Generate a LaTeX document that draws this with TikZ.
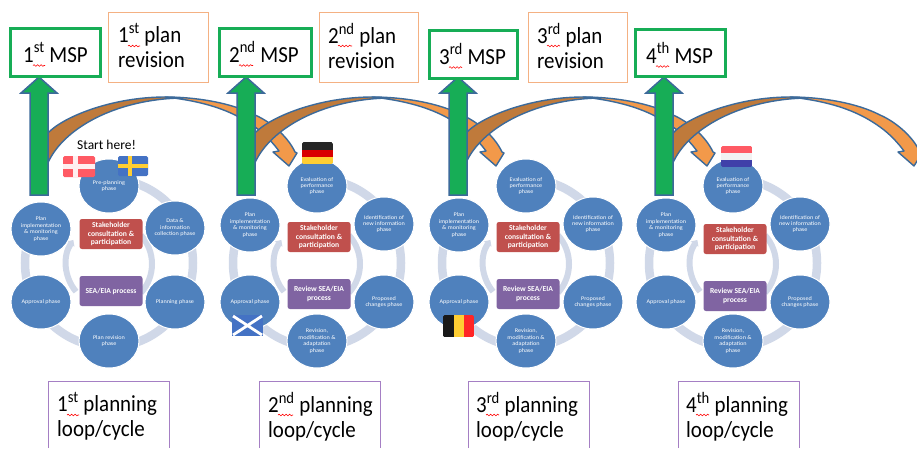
\documentclass[tikz,border=0pt]{standalone}
\usepackage{fontspec}
\setmainfont{Carlito}
\usetikzlibrary{arrows.meta,decorations.pathmorphing}
\definecolor{cblue}{HTML}{4F81BD}
\definecolor{cring}{HTML}{D0D8E8}
\definecolor{cred}{HTML}{C0504D}
\definecolor{cpurple}{HTML}{8064A2}
\definecolor{cgreen}{HTML}{17AD56}
\definecolor{cline}{HTML}{3C6A9A}
\definecolor{cbrown}{HTML}{BF7A3B}
\definecolor{corange}{HTML}{F2994A}
\definecolor{cboxor}{HTML}{F4B183}
\definecolor{cboxpu}{HTML}{A57FC4}
\definecolor{cflagred}{HTML}{FF5A64}
\definecolor{cflagblue}{HTML}{4472C4}
\definecolor{cflagyel}{HTML}{FFCE33}
\tikzset{
  x=1pt,y=-1pt,
  phase/.style={circle,draw=white,line width=1pt,fill=cblue,minimum width=60pt,inner sep=0pt,
    text=white,align=center,yscale=0.9,font=\fontsize{6.2}{7.2}\selectfont},
  redbox/.style={rectangle,rounded corners=2.5pt,fill=cred,minimum width=63pt,minimum height=30pt,inner sep=0pt,
    text=white,align=center,font=\fontsize{7.6}{8.4}\selectfont\bfseries},
  purplebox/.style={redbox,fill=cpurple},
  ringline/.style={draw=cring,line width=8.5pt},
  innerline/.style={draw=cring,line width=6pt},
  mspbox/.style={rectangle,draw=cgreen,line width=3pt,fill=white,inner sep=0pt},
  revbox/.style={rectangle,draw=cboxor,line width=0.9pt,fill=white,inner sep=0pt},
  planline/.style={draw=cboxpu,line width=1pt},
  label/.style={anchor=base west,inner sep=0pt,xscale=0.91,font=\fontsize{23}{25}\selectfont},
  biglabel/.style={anchor=north west,inner sep=0pt,align=left,xscale=0.91,font=\fontsize{23}{25}\selectfont},
  squig/.style={draw=red,line width=0.6pt,decorate,decoration={snake,amplitude=0.8pt,segment length=3.5pt}},
  greenarrow/.style={draw=cline,line width=1.5pt,fill=cgreen,line join=miter},
  bandline/.style={draw=cline,line width=1.4pt,line join=round},
  flagedge/.style={rounded corners=1.5pt}
}
\newcommand{\ringparts}{%
  \draw[ringline] (0,263) ++(90:84pt) arc[start angle=90,end angle=-210,radius=84pt];
  \draw[innerline,-{Triangle[length=5pt,width=9pt]}] (0,264) ++(220:43pt) arc[start angle=220,end angle=146,radius=43pt];
  \draw[innerline] (0,264) ++(42:43pt) arc[start angle=42,end angle=-42,radius=43pt];
}
\newcommand{\laterloop}[3]{%
\begin{scope}[shift={(#2,0)}]
  \ringparts
  \node[phase] (#1eval) at (0,186) {Evaluation of\\performance\\phase};
  \node[phase] (#1impl) at (-67,225) {Plan\\implementation\\\& monitoring\\phase};
  \node[phase] (#1iden) at (67,224) {Identification of\\new information\\phase};
  \node[phase] (#1appr) at (-67,302) {Approval phase};
  \node[phase] (#1prop) at (67,302) {Proposed\\changes phase};
  \node[phase] (#1revi) at (0,341) {Revision,\\modification \&\\adaptation\\phase};
  \node[redbox] (#1stake) at (2,#3) {Stakeholder\\consultation \&\\participation};
  \node[purplebox] (#1sea) at (2,#3+57) {Review SEA/EIA\\process};
\end{scope}}
\newcommand{\bandarrow}[1]{%
\begin{scope}[shift={(#1,0)}]
  \path[fill=corange,bandline] (118,97) .. controls (150,97) and (185,103) .. (208,115)
     .. controls (222,121) and (240,135) .. (248,152)
     -- (250,153) -- (242,166) -- (226,152) -- (232,151)
     .. controls (226,143) and (218,134) .. (208,127)
     .. controls (190,114) and (165,102) .. (118,97) -- cycle;
  \path[fill=cbrown,bandline] (0,134) .. controls (15,117) and (65,97) .. (118,97) -- (135,98)
     .. controls (70,99) and (15,128) .. (0,165) -- cycle;
\end{scope}}
\newcommand{\greenup}[3]{%
  \path[greenarrow] (#1-9,#3) -- (#1-9,93) -- (#1-18,93) -- (#1,#2) -- (#1+18,93) -- (#1+9,93) -- (#1+9,#3) -- cycle;}
\begin{document}
\begin{tikzpicture}
\useasboundingbox (0,0) rectangle (917,448);
\fill[white] (0,0) rectangle (917,448);

% loop 1
\begin{scope}[shift={(109,0)}]
  \draw[ringline] (0,263) ++(90:84pt) arc[start angle=90,end angle=-210,radius=84pt];
  \draw[innerline,-{Triangle[length=5pt,width=9pt]}] (0,264) ++(220:43pt) arc[start angle=220,end angle=146,radius=43pt];
  \draw[innerline] (0,264) ++(42:43pt) arc[start angle=42,end angle=-42,radius=43pt];
  \node[phase] (apre) at (0,186) {Pre-planning\\phase};
  \node[phase] (aimpl) at (-68,229) {Plan\\implementation\\\& monitoring\\phase};
  \node[phase] (adata) at (66,228) {Data \&\\information\\collection phase};
  \node[phase] (aappr) at (-68,302) {Approval phase};
  \node[phase] (aplan) at (66,302) {Planning phase};
  \node[phase] (arevi) at (0,341) {Plan revision\\phase};
  \node[redbox] (astake) at (2,234) {Stakeholder\\consultation \&\\participation};
  \node[purplebox] (asea) at (2,291) {SEA/EIA process};
\end{scope}

\laterloop{b}{317}{237}
\laterloop{c}{526}{237}
\laterloop{d}{733}{239}

% curved arrows
\bandarrow{47}
\bandarrow{254}
\bandarrow{465}
\bandarrow{672}

% green arrows
\greenup{39}{77}{195}
\greenup{246}{77}{195}
\greenup{458}{77}{195}
\greenup{664}{77}{195}

% MSP boxes
\node[mspbox,minimum width=90pt,minimum height=48pt] (msp1) at (55,52) {};
\node[mspbox,minimum width=92pt,minimum height=48pt] (msp2) at (265,52) {};
\node[mspbox,minimum width=88pt,minimum height=48pt] (msp3) at (473,54) {};
\node[mspbox,minimum width=90pt,minimum height=47pt] (msp4) at (680,53) {};
\node[label] at (23,62) {1\textsuperscript{st} MSP};
\node[label] at (229,62) {2\textsuperscript{nd} MSP};
\node[label] at (439,64) {3\textsuperscript{rd} MSP};
\node[label] at (646,63) {4\textsuperscript{th} MSP};
\draw[squig] (33,65.5) -- (45,65.5);
\draw[squig] (239,65.5) -- (253,65.5);
\draw[squig] (449,67.5) -- (462,67.5);
\draw[squig] (656,66.5) -- (669,66.5);

% revision boxes
\node[revbox,minimum width=100pt,minimum height=70pt] (rev1) at (158,47) {};
\node[revbox,minimum width=99pt,minimum height=70pt] (rev2) at (368.5,47) {};
\node[revbox,minimum width=99pt,minimum height=70pt] (rev3) at (577.5,47) {};
\node[biglabel] at (118,23.5) {1\textsuperscript{st} plan\\revision};
\node[biglabel] at (328,23.5) {2\textsuperscript{nd} plan\\revision};
\node[biglabel] at (537,23.5) {3\textsuperscript{rd} plan\\revision};
\draw[squig] (128,46) -- (140,46);
\draw[squig] (338,46) -- (352,46);
\draw[squig] (547,46) -- (560,46);

% planning boxes
\draw[planline] (48,448) -- (48,381) -- (169,381) -- (169,448);
\draw[planline] (259,448) -- (259,381) -- (380,381) -- (380,448);
\draw[planline] (468,448) -- (468,381) -- (589,381) -- (589,448);
\node[biglabel] at (57,392.5) {1\textsuperscript{st} planning\\loop/cycle};
\node[biglabel] at (268,392.5) {2\textsuperscript{nd} planning\\loop/cycle};
\node[biglabel] at (476,392.5) {3\textsuperscript{rd} planning\\loop/cycle};
\draw[planline] (678,448) -- (678,381) -- (799,381) -- (799,448);
\node[biglabel] at (686,392.5) {4\textsuperscript{th} planning\\loop/cycle};
\draw[squig] (67,415) -- (79,415);
\draw[squig] (278,415) -- (293,415);
\draw[squig] (486,415) -- (499,415);
\draw[squig] (696,415) -- (709,415);

% start text
\node[anchor=base west,inner sep=0pt,font=\fontsize{13.5}{15}\selectfont] (start) at (77,149) {Start here!};

% Denmark
\fill[cflagred,flagedge] (63,156) rectangle (95,177);
\fill[white!90!cflagred] (73,156) rectangle (78,177);
\fill[white!90!cflagred] (63,164) rectangle (95,169);
% Sweden
\fill[cflagblue,flagedge] (118,156) rectangle (148,176);
\fill[cflagyel] (128,156) rectangle (132,176);
\fill[cflagyel] (118,164) rectangle (148,168);
% Germany
\begin{scope}
\clip[flagedge] (302,142) rectangle (333,164);
\fill[black!85] (302,142) rectangle (333,149.5);
\fill[red!85!black] (302,149.5) rectangle (333,157);
\fill[cflagyel] (302,157) rectangle (333,164);
\end{scope}
% Scotland
\fill[cflagblue] (232,315) rectangle (263,336);
\draw[white,line width=2.8pt] (233,316) -- (262,335) (262,316) -- (233,335);
% Belgium
\begin{scope}
\clip[flagedge] (443,315) rectangle (474,337);
\fill[black!90] (443,315) rectangle (453.5,337);
\fill[cflagyel] (453.5,315) rectangle (464,337);
\fill[red!85] (464,315) rectangle (474,337);
\end{scope}
% Netherlands
\begin{scope}
\clip[flagedge] (721,146) rectangle (752,167);
\fill[cflagred] (721,146) rectangle (752,153);
\fill[black!5] (721,153) rectangle (752,160);
\fill[blue!55!black!75] (721,160) rectangle (752,167);
\end{scope}
\end{tikzpicture}
\end{document}
